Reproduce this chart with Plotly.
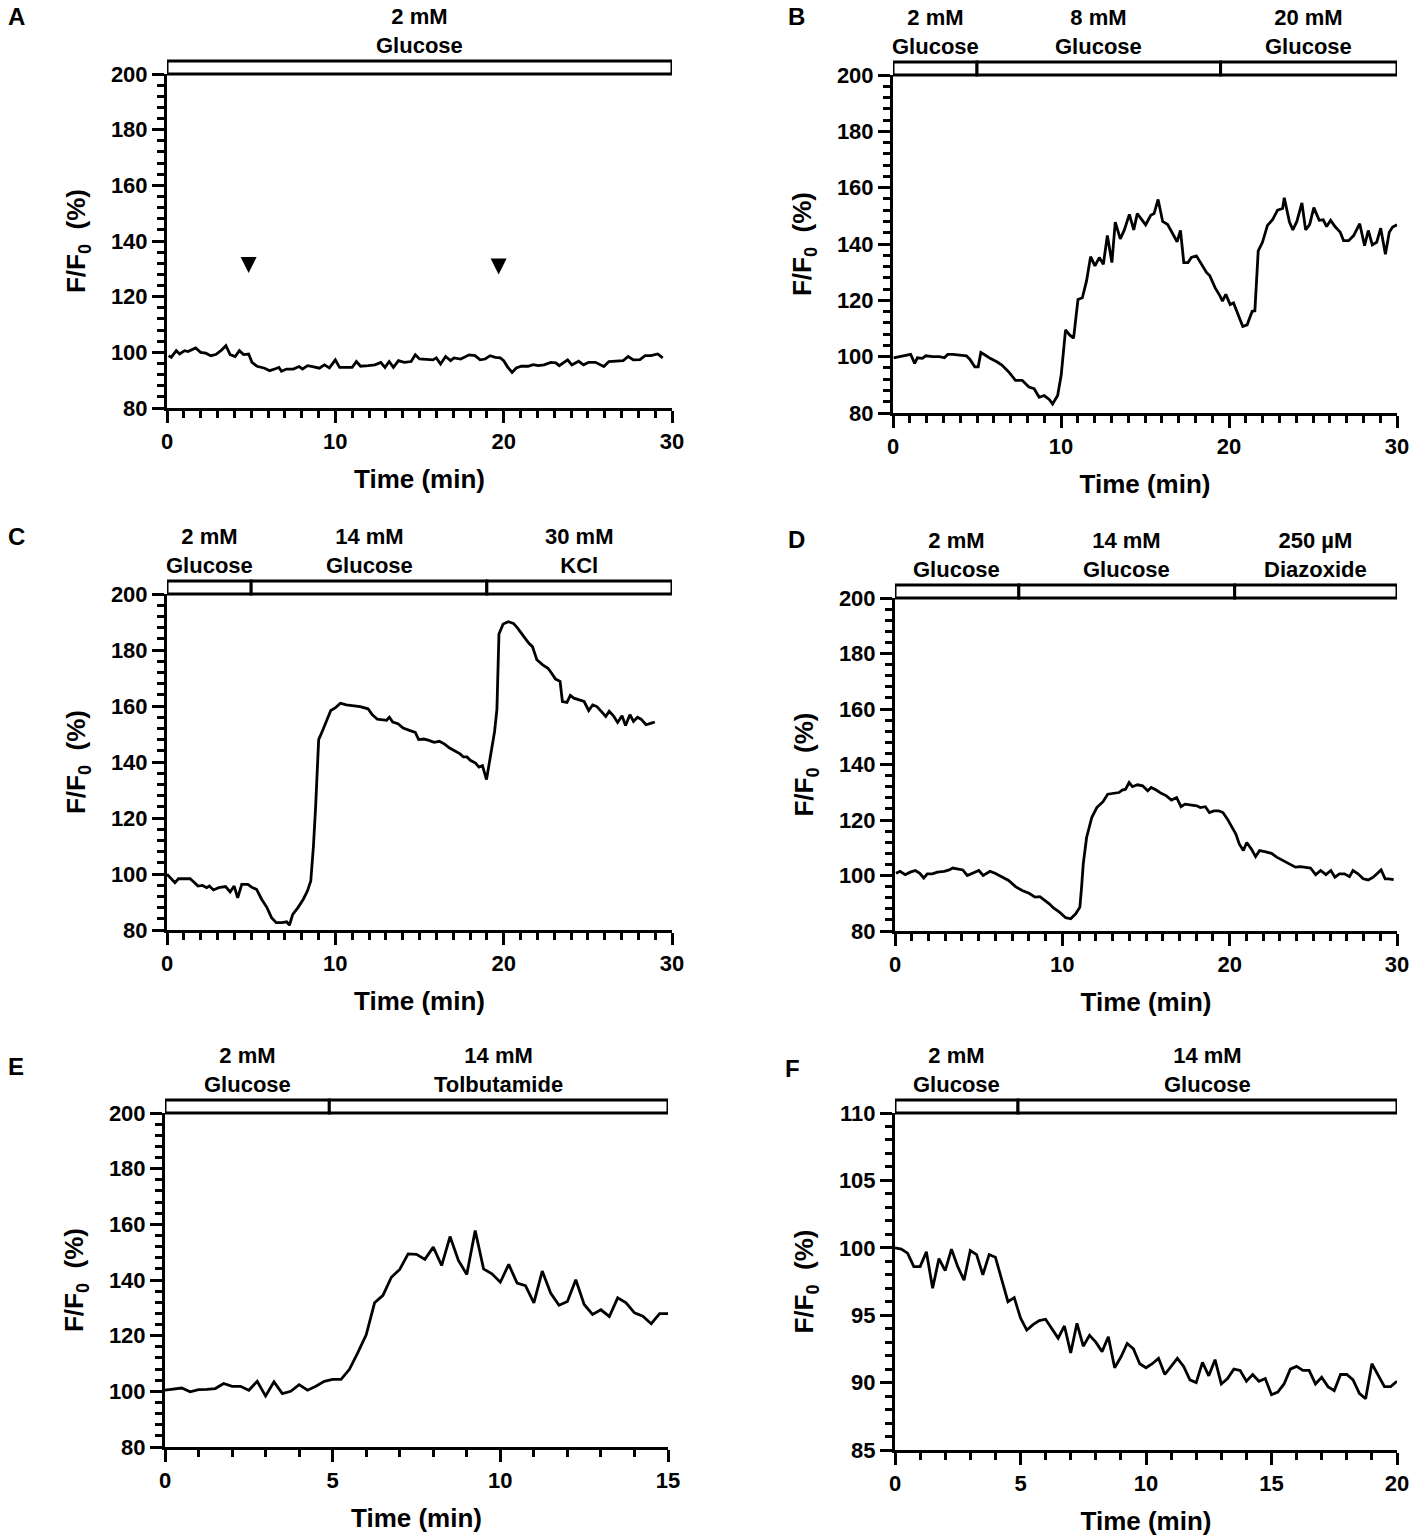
import plotly.graph_objects as go

W, H = 1417, 1539
FONT = "Liberation Sans, Arial, sans-serif"

# ---------------- data ----------------
# A: 2 mM glucose throughout
a_time = [0.1, 0.25, 0.55, 0.75, 1.05, 1.25, 1.7, 2.0, 2.3, 2.6,
          2.9, 3.2, 3.5, 3.75, 4.05, 4.3, 4.55, 4.85, 5.05, 5.35,
          5.8, 6.1, 6.4, 6.65, 6.8, 7.1, 7.5, 7.85, 8.05, 8.35,
          8.65, 9.05, 9.35, 9.65, 10.0, 10.25, 10.6, 11.0, 11.25, 11.5,
          11.95, 12.35, 12.7, 12.95, 13.2, 13.45, 13.75, 14.1, 14.5, 14.75,
          15.0, 15.4, 15.8, 16.0, 16.25, 16.55, 16.85, 17.05, 17.45, 17.95,
          18.3, 18.6, 18.9, 19.2, 19.5, 19.8, 20.0, 20.25, 20.5, 20.75,
          21.05, 21.45, 21.75, 22.05, 22.4, 22.8, 23.1, 23.3, 23.6, 23.8,
          24.05, 24.45, 24.75, 25.05, 25.45, 25.95, 26.25, 26.7, 27.1, 27.4,
          27.7, 28.1, 28.4, 28.75, 29.15, 29.45]
a_ff0 = [98.8, 98.2, 100.6, 99.4, 100.6, 100.3, 101.6, 100.0, 99.7, 98.8,
         99.2, 100.6, 102.4, 99.2, 98.5, 100.6, 99.2, 99.4, 96.4, 95.0,
         94.3, 93.4, 94.0, 94.6, 93.2, 94.0, 94.0, 94.9, 94.0, 95.2,
         94.9, 94.3, 95.5, 94.4, 97.3, 94.6, 94.6, 94.6, 96.7, 95.0,
         95.2, 95.5, 96.4, 94.6, 96.7, 94.6, 97.0, 96.4, 96.7, 99.1,
         97.6, 97.4, 97.3, 98.0, 95.8, 98.5, 97.0, 98.0, 97.6, 99.1,
         98.8, 97.3, 97.6, 98.8, 98.2, 98.0, 97.0, 94.6, 92.8, 94.4,
         95.0, 95.0, 95.6, 95.2, 95.5, 96.4, 96.2, 95.2, 96.4, 97.3,
         95.5, 96.8, 95.5, 96.4, 96.4, 94.9, 96.7, 96.8, 97.0, 98.5,
         97.3, 97.4, 98.8, 98.8, 99.4, 98.0]
# arrowheads (tip position)
a_arrow_time = [4.85, 19.7]
a_arrow_ff0 = [128.5, 128.0]
a_edges = [0, 30]
a_labels = ["2 mM<br>Glucose"]

# B: 2 -> 8 -> 20 mM glucose
b_time = [0.04, 0.34, 0.74, 1.05, 1.29, 1.45, 1.75, 1.95, 2.36, 2.76,
          3.06, 3.26, 3.56, 4.07, 4.37, 4.57, 4.87, 5.07, 5.23, 5.48,
          5.78, 6.18, 6.48, 6.89, 7.29, 7.69, 8.09, 8.40, 8.70, 9.0,
          9.30, 9.50, 9.80, 10.01, 10.27, 10.51, 10.75, 11.01, 11.27, 11.52,
          11.76, 12.02, 12.28, 12.52, 12.76, 13.03, 13.23, 13.53, 13.77, 14.07,
          14.33, 14.54, 14.84, 15.04, 15.34, 15.54, 15.78, 16.05, 16.35, 16.65,
          16.91, 17.11, 17.31, 17.56, 17.76, 18.06, 18.36, 18.66, 18.86, 19.17,
          19.47, 19.61, 19.81, 20.07, 20.27, 20.58, 20.82, 21.08, 21.38, 21.54,
          21.74, 21.99, 22.29, 22.59, 22.89, 23.19, 23.29, 23.60, 23.80, 24.04,
          24.34, 24.56, 24.80, 25.05, 25.37, 25.61, 25.81, 26.05, 26.31, 26.62,
          26.82, 27.12, 27.42, 27.78, 28.07, 28.29, 28.53, 28.79, 29.03, 29.31,
          29.54, 29.74, 30.0]
b_ff0 = [99.6, 100.0, 100.3, 100.8, 97.6, 99.6, 99.4, 100.3, 100.0, 100.0,
         99.6, 100.8, 100.8, 100.6, 100.3, 99.1, 96.4, 96.4, 101.5, 100.6,
         99.4, 98.2, 97.0, 94.6, 91.6, 91.6, 89.2, 88.6, 85.6, 86.2,
         84.8, 83.2, 86.2, 93.4, 109.5, 107.7, 106.6, 120.3, 120.9, 126.9,
         135.5, 132.2, 135.2, 132.8, 143.0, 133.4, 147.8, 141.8, 145.0, 150.5,
         145.0, 150.8, 148.4, 146.8, 150.2, 150.8, 155.8, 148.0, 146.9, 143.6,
         140.8, 144.8, 133.4, 133.4, 135.2, 135.8, 132.8, 129.9, 128.7, 124.5,
         121.5, 119.7, 122.1, 118.5, 119.1, 114.3, 110.7, 111.3, 116.1, 116.3,
         137.6, 140.6, 146.6, 148.6, 152.0, 152.6, 156.4, 147.8, 145.0, 148.0,
         154.6, 145.0, 146.9, 152.9, 148.4, 148.6, 146.2, 148.4, 146.2, 144.2,
         141.2, 141.2, 143.0, 147.2, 139.4, 144.8, 139.7, 140.6, 145.6, 136.4,
         144.2, 146.0, 146.8]
b_edges = [0, 5, 19.5, 30]
b_labels = ["2 mM<br>Glucose", "8 mM<br>Glucose", "20 mM<br>Glucose"]

# C: 2 -> 14 mM glucose -> 30 mM KCl
c_time = [0.0, 0.2, 0.47, 0.68, 1.02, 1.37, 1.64, 1.84, 2.11, 2.36,
          2.52, 2.76, 3.07, 3.48, 3.75, 3.99, 4.2, 4.44, 4.81, 5.02,
          5.32, 5.63, 5.94, 6.21, 6.49, 6.82, 7.11, 7.27, 7.47, 7.78,
          8.09, 8.34, 8.54, 8.70, 8.83, 9.01, 9.22, 9.48, 9.73, 9.99,
          10.30, 10.65, 11.06, 11.47, 11.94, 12.19, 12.49, 12.76, 13.05, 13.21,
          13.41, 13.72, 14.03, 14.40, 14.75, 14.95, 15.26, 15.56, 15.87, 16.18,
          16.49, 16.79, 17.10, 17.41, 17.61, 17.82, 18.02, 18.33, 18.53, 18.74,
          18.98, 19.25, 19.46, 19.60, 19.72, 19.97, 20.27, 20.58, 20.83, 21.20,
          21.50, 21.71, 21.97, 22.32, 22.63, 22.85, 23.08, 23.35, 23.49, 23.76,
          23.96, 24.17, 24.47, 24.78, 25.05, 25.29, 25.54, 25.80, 26.07, 26.27,
          26.52, 26.77, 27.03, 27.24, 27.50, 27.71, 27.95, 28.16, 28.46, 28.77,
          28.98]
c_ff0 = [99.9, 98.7, 96.9, 98.3, 98.3, 98.3, 96.9, 95.7, 95.9, 95.1,
         95.7, 94.3, 95.1, 95.5, 93.6, 95.7, 91.5, 96.3, 96.3, 95.3,
         94.5, 90.9, 88.0, 84.4, 82.6, 82.6, 82.9, 81.7, 85.6, 88.0,
         90.9, 93.9, 97.5, 110.0, 124.2, 148.0, 150.9, 155.1, 158.4, 159.3,
         161.0, 160.4, 160.2, 159.8, 159.0, 156.9, 155.3, 155.1, 154.9, 156.0,
         154.3, 153.7, 152.1, 151.3, 150.6, 148.0, 148.2, 147.7, 147.0, 147.4,
         146.4, 145.0, 143.8, 142.9, 141.8, 141.8, 140.6, 139.6, 138.2, 138.7,
         133.7, 142.6, 150.9, 158.9, 185.7, 189.3, 190.1, 189.5, 187.8, 184.8,
         182.4, 181.2, 176.5, 174.7, 173.5, 171.7, 169.6, 168.8, 161.6, 161.3,
         163.8, 162.8, 162.2, 161.6, 158.4, 160.4, 159.8, 158.1, 156.3, 158.1,
         156.5, 154.1, 156.5, 153.0, 156.9, 154.5, 156.0, 155.3, 153.3, 153.9,
         154.3]
c_edges = [0, 5, 19, 30]
c_labels = ["2 mM<br>Glucose", "14 mM<br>Glucose", "30 mM<br>KCl"]

# D: 2 -> 14 mM glucose -> 250 uM diazoxide
d_time = [0.06, 0.30, 0.61, 0.91, 1.22, 1.48, 1.72, 1.93, 2.23, 2.53,
          2.94, 3.24, 3.45, 3.75, 4.05, 4.32, 4.66, 5.01, 5.27, 5.68,
          5.98, 6.39, 6.79, 7.20, 7.60, 8.01, 8.37, 8.66, 8.98, 9.22,
          9.47, 9.83, 10.20, 10.50, 10.80, 11.05, 11.15, 11.25, 11.45, 11.76,
          12.06, 12.43, 12.71, 13.08, 13.38, 13.58, 13.78, 13.99, 14.19, 14.49,
          14.80, 15.10, 15.31, 15.61, 15.91, 16.22, 16.52, 16.83, 17.09, 17.33,
          17.64, 18.04, 18.24, 18.55, 18.79, 19.06, 19.36, 19.60, 19.87, 20.13,
          20.37, 20.58, 20.82, 21.02, 21.29, 21.55, 21.79, 22.10, 22.50, 22.81,
          23.21, 23.62, 23.93, 24.23, 24.53, 24.83, 25.14, 25.44, 25.75, 26.05,
          26.29, 26.56, 26.86, 27.16, 27.37, 27.67, 27.98, 28.28, 28.58, 28.79,
          29.05, 29.29, 29.49, 29.80]
d_ff0 = [100.8, 101.5, 100.3, 101.2, 101.8, 100.8, 99.1, 100.6, 100.6, 101.2,
         101.5, 102.0, 102.7, 102.4, 102.0, 100.0, 100.8, 101.8, 100.0, 101.5,
         100.8, 99.4, 98.2, 96.0, 94.6, 93.6, 92.2, 92.4, 91.0, 89.8,
         88.3, 86.8, 84.8, 84.4, 86.2, 88.6, 95.8, 104.2, 113.7, 120.9,
         124.5, 126.6, 129.3, 129.6, 129.9, 130.8, 131.1, 133.5, 132.0, 132.7,
         132.3, 130.5, 131.7, 130.8, 129.6, 128.7, 127.2, 128.1, 124.8, 125.7,
         125.5, 125.1, 124.5, 124.8, 122.7, 123.3, 123.3, 122.7, 120.3, 117.3,
         114.9, 111.3, 109.0, 111.9, 109.6, 106.8, 109.0, 108.6, 108.0, 106.6,
         105.4, 103.9, 103.0, 103.2, 103.0, 102.7, 100.3, 101.8, 100.3, 101.8,
         99.4, 100.6, 100.6, 99.6, 101.8, 100.6, 98.8, 98.4, 99.4, 100.6,
         102.0, 98.8, 98.8, 98.5]
d_edges = [0, 7.4, 20.3, 30]
d_labels = ["2 mM<br>Glucose", "14 mM<br>Glucose", "250 µM<br>Diazoxide"]

# E: 2 mM glucose -> 14 mM tolbutamide (sampled every 15 s)
e_time = [0.0, 0.25, 0.5, 0.75, 1.0, 1.25, 1.5, 1.75, 2.0, 2.25,
          2.5, 2.75, 3.0, 3.25, 3.5, 3.75, 4.0, 4.25, 4.5, 4.75,
          5.0, 5.25, 5.5, 5.75, 6.0, 6.25, 6.5, 6.75, 7.0, 7.25,
          7.5, 7.75, 8.0, 8.25, 8.5, 8.75, 9.0, 9.25, 9.5, 9.75,
          10.0, 10.25, 10.5, 10.75, 11.0, 11.25, 11.5, 11.75, 12.0, 12.25,
          12.5, 12.75, 13.0, 13.25, 13.5, 13.75, 14.0, 14.25, 14.5, 14.75,
          15.0]
e_ff0 = [100.4, 100.7, 101.2, 99.8, 100.6, 100.7, 101.0, 102.8, 101.8, 101.8,
         100.4, 103.6, 98.3, 103.4, 99.2, 100.0, 102.4, 100.4, 101.8, 103.6,
         104.3, 104.3, 107.9, 113.9, 120.3, 131.8, 134.5, 141.0, 143.8, 149.4,
         149.2, 147.4, 151.8, 145.2, 155.6, 147.0, 142.0, 157.8, 144.0, 142.2,
         139.2, 145.6, 138.9, 138.0, 131.8, 143.2, 135.3, 130.9, 132.3, 140.1,
         131.2, 127.6, 129.3, 126.9, 133.6, 131.8, 128.2, 127.0, 124.3, 127.9,
         127.9]
e_edges = [0, 4.9, 15]
e_labels = ["2 mM<br>Glucose", "14 mM<br>Tolbutamide"]

# F: 2 -> 14 mM glucose (sampled every 15 s)
f_time = [0.0, 0.25, 0.5, 0.75, 1.0, 1.25, 1.5, 1.75, 2.0, 2.25,
          2.5, 2.75, 3.0, 3.25, 3.5, 3.75, 4.0, 4.25, 4.5, 4.75,
          5.0, 5.25, 5.5, 5.75, 6.0, 6.25, 6.5, 6.75, 7.0, 7.25,
          7.5, 7.75, 8.0, 8.25, 8.5, 8.75, 9.0, 9.25, 9.5, 9.75,
          10.0, 10.25, 10.5, 10.75, 11.0, 11.25, 11.5, 11.75, 12.0, 12.25,
          12.5, 12.75, 13.0, 13.25, 13.5, 13.75, 14.0, 14.25, 14.5, 14.75,
          15.0, 15.25, 15.5, 15.75, 16.0, 16.25, 16.5, 16.75, 17.0, 17.25,
          17.5, 17.75, 18.0, 18.25, 18.5, 18.75, 19.0, 19.25, 19.5, 19.75,
          20.0]
f_ff0 = [100.0, 99.9, 99.6, 98.6, 98.6, 99.7, 97.0, 99.2, 98.3, 99.9,
         98.6, 97.6, 99.8, 99.5, 98.0, 99.5, 99.3, 97.6, 96.0, 96.3,
         94.8, 93.9, 94.3, 94.6, 94.7, 94.0, 93.3, 94.2, 92.2, 94.4,
         92.7, 93.5, 93.0, 92.3, 93.4, 91.1, 91.9, 92.9, 92.5, 91.4,
         91.1, 91.4, 91.8, 90.6, 91.2, 91.8, 91.2, 90.2, 90.0, 91.5,
         90.5, 91.7, 89.9, 90.3, 91.0, 90.9, 90.1, 90.6, 90.1, 90.3,
         89.1, 89.3, 89.9, 91.0, 91.2, 90.9, 90.9, 89.9, 90.4, 89.7,
         89.4, 90.6, 90.6, 90.2, 89.2, 88.8, 91.4, 90.6, 89.7, 89.7,
         90.1]
f_edges = [0, 4.9, 20]
f_labels = ["2 mM<br>Glucose", "14 mM<br>Glucose"]

# ---------------- layout ----------------
# box = plot area in page pixels (left, right, top, bottom); letter = panel letter centre
panels = [
    dict(name="A", t=a_time, y=a_ff0, edges=a_edges, labels=a_labels,
         box=(167, 672, 74, 408), letter=(16, 17), xr=[0, 30], xd=10, yr=[80, 200], yd=20, ym=4),
    dict(name="B", t=b_time, y=b_ff0, edges=b_edges, labels=b_labels,
         box=(893, 1397, 75, 413), letter=(796, 17), xr=[0, 30], xd=10, yr=[80, 200], yd=20, ym=4),
    dict(name="C", t=c_time, y=c_ff0, edges=c_edges, labels=c_labels,
         box=(167, 672, 594, 930), letter=(16, 537), xr=[0, 30], xd=10, yr=[80, 200], yd=20, ym=4),
    dict(name="D", t=d_time, y=d_ff0, edges=d_edges, labels=d_labels,
         box=(895, 1397, 598, 931), letter=(796, 539), xr=[0, 30], xd=10, yr=[80, 200], yd=20, ym=4),
    dict(name="E", t=e_time, y=e_ff0, edges=e_edges, labels=e_labels,
         box=(165, 668, 1113, 1447), letter=(16, 1066), xr=[0, 15], xd=5, yr=[80, 200], yd=20, ym=4),
    dict(name="F", t=f_time, y=f_ff0, edges=f_edges, labels=f_labels,
         box=(895, 1397, 1113, 1450), letter=(792, 1068), xr=[0, 20], xd=5, yr=[85, 110], yd=5, ym=1),
]

fig = go.Figure()
layout = dict(width=W, height=H, margin=dict(l=0, r=0, t=0, b=0, autoexpand=False),
              paper_bgcolor="white", plot_bgcolor="white", showlegend=False,
              font=dict(family=FONT, color="black"))
shapes, annotations = [], []

tickfont = dict(family=FONT, size=22, color="black", weight="bold")
titlefont = dict(family=FONT, size=26, color="black", weight="bold")

for i, p in enumerate(panels, start=1):
    sfx = "" if i == 1 else str(i)
    xa, ya = "x" + sfx, "y" + sfx
    left, right, top, bottom = p["box"]
    hpx = bottom - top

    fig.add_trace(go.Scatter(x=p["t"], y=p["y"], mode="lines", xaxis=xa, yaxis=ya,
                             line=dict(color="black", width=2.8)))

    common = dict(showline=True, linecolor="black", linewidth=3, showgrid=False,
                  zeroline=False, ticks="outside", ticklen=12, tickwidth=3,
                  tickcolor="black", tickfont=tickfont, automargin=False)
    layout["xaxis" + sfx] = dict(
        common, domain=[left / W, right / W], anchor=ya, range=p["xr"],
        tick0=0, dtick=p["xd"],
        minor=dict(dtick=1, ticks="outside", ticklen=7, tickwidth=3, tickcolor="black"),
        title=dict(text="Time (min)", font=titlefont, standoff=17))
    layout["yaxis" + sfx] = dict(
        common, domain=[1 - bottom / H, 1 - top / H], anchor=xa, range=p["yr"],
        tick0=p["yr"][0], dtick=p["yd"],
        minor=dict(dtick=p["ym"], ticks="outside", ticklen=7, tickwidth=3, tickcolor="black"),
        title=dict(text="F/F<sub>0</sub>&nbsp;&nbsp;(%)", font=titlefont, standoff=18))

    # treatment bar above each panel
    bar_top = 1 + 13 / hpx
    edges = p["edges"]
    for k, lab in enumerate(p["labels"]):
        shapes.append(dict(type="rect", xref=xa, yref=ya + " domain",
                           x0=edges[k], x1=edges[k + 1], y0=1, y1=bar_top,
                           line=dict(color="black", width=3), fillcolor="white"))
        annotations.append(dict(xref=xa, yref=ya + " domain",
                                x=(edges[k] + edges[k + 1]) / 2, y=1 + 14 / hpx,
                                yanchor="bottom", showarrow=False, text=lab,
                                font=dict(family=FONT, size=22, color="black", weight="bold")))

    # panel letter
    lx, ly = p["letter"]
    annotations.append(dict(xref="paper", yref="paper", x=lx / W, y=1 - ly / H,
                            xanchor="center", yanchor="middle", showarrow=False,
                            text=p["name"],
                            font=dict(family=FONT, size=24, color="black", weight="bold")))

# arrowheads in panel A
fig.add_trace(go.Scatter(x=a_arrow_time, y=a_arrow_ff0, mode="markers", xaxis="x", yaxis="y",
                         marker=dict(symbol="arrow-down", size=16, color="black"),
                         cliponaxis=False))

layout["shapes"] = shapes
layout["annotations"] = annotations
fig.update_layout(**layout)

# drop the browser's default 8 px body margin so the figure fills the window exactly
fig.write_html("out.html", config={"displayModeBar": False},
               post_script="document.body.style.margin = '0';")
